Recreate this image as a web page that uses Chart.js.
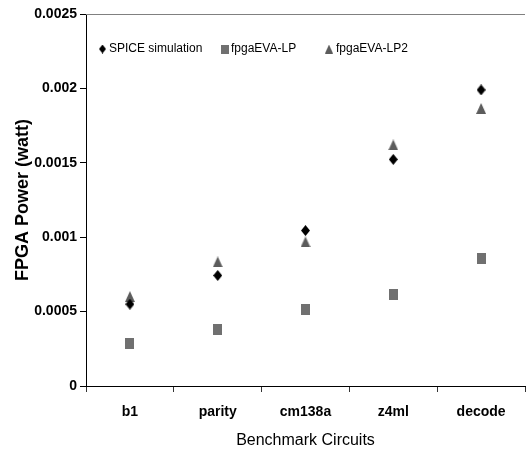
<!DOCTYPE html>
<html>
<head>
<meta charset="utf-8">
<script src="https://cdn.jsdelivr.net/npm/chart.js@4.4.1/dist/chart.umd.min.js"></script>
<style>
  html, body { margin: 0; padding: 0; background: #fff; }
  canvas { display: block; }
</style>
</head>
<body>
<canvas id="chart" width="526" height="451"></canvas>
<script>
var circuits = ['b1', 'parity', 'cm138a', 'z4ml', 'decode'];
var spiceSim = [0.00055, 0.000743, 0.001045, 0.001523, 0.00199];
var evaLP = [0.000286, 0.00038, 0.000514, 0.000612, 0.00086];
var evaLP2 = [0.000601, 0.000834, 0.000968, 0.00162, 0.001865];
var yTicks = [0, 0.0005, 0.001, 0.0015, 0.002, 0.0025];

var fontFam = '"Liberation Sans", Arial, sans-serif';

function marker(kind, color, w, h) {
    var c = document.createElement('canvas');
    c.width = w; c.height = h;
    var g = c.getContext('2d');
    g.fillStyle = color;
    g.beginPath();
    if (kind === 'diamond') {
        g.moveTo(w / 2, 0); g.lineTo(w, h / 2); g.lineTo(w / 2, h); g.lineTo(0, h / 2);
    } else if (kind === 'triangle') {
        g.moveTo(w / 2, 0); g.lineTo(w, h); g.lineTo(0, h);
    } else {
        g.rect(0, 0, w, h);
    }
    g.closePath();
    g.fill();
    return c;
}

var mkSpice = marker('diamond', '#000000', 9, 11);
var mkLP = marker('square', '#707070', 9, 11);
var mkLP2 = marker('triangle', '#5c5c5c', 10, 11);

var chartFrame = {
    id: 'chartFrame',
    afterDraw: function(chart) {
        var ctx = chart.ctx, a = chart.chartArea;
        ctx.save();
        ctx.strokeStyle = '#808080';
        ctx.lineWidth = 1;
        ctx.beginPath();
        ctx.moveTo(a.left, a.top + 0.5);
        ctx.lineTo(a.right, a.top + 0.5);
        ctx.stroke();

        // legend inside the plot
        var items = [
            { x: 99, tx: 109, img: marker('diamond', '#000000', 7, 9) },
            { x: 221, tx: 231, img: marker('square', '#707070', 8, 9) },
            { x: 325, tx: 336, img: marker('triangle', '#5c5c5c', 8, 9) }
        ];
        ctx.font = '12px ' + fontFam;
        ctx.fillStyle = '#000';
        ctx.textBaseline = 'middle';
        chart.data.datasets.forEach(function(ds, i) {
            var it = items[i];
            ctx.drawImage(it.img, it.x, 49 - it.img.height / 2);
            ctx.fillText(ds.label, it.tx, 49);
        });
        ctx.restore();
    }
};

new Chart(document.getElementById('chart'), {
    type: 'line',
    data: {
        labels: circuits,
        datasets: [
            { label: 'SPICE simulation', data: spiceSim, pointStyle: mkSpice },
            { label: 'fpgaEVA-LP', data: evaLP, pointStyle: mkLP },
            { label: 'fpgaEVA-LP2', data: evaLP2, pointStyle: mkLP2 }
        ]
    },
    options: {
        responsive: false,
        animation: false,
        showLine: false,
        layout: { autoPadding: false, padding: { top: 14, right: 1, left: 0, bottom: 0 } },
        plugins: { legend: { display: false }, tooltip: { enabled: false } },
        scales: {
            x: {
                offset: true,
                grid: { offset: true, drawOnChartArea: false, tickLength: 6, color: '#333' },
                border: { color: '#000', width: 1 },
                ticks: { color: '#000', padding: 12, maxRotation: 0, autoSkip: false,
                    font: { family: fontFam, size: 14, weight: 'bold' } },
                title: { display: true, text: 'Benchmark Circuits', color: '#000', padding: 0,
                    font: { family: fontFam, size: 16, lineHeight: 1.25 } },
                afterFit: function(s) { s.height = 65; s.paddingLeft = 0; s.paddingRight = 0; }
            },
            y: {
                min: 0,
                max: 0.0025,
                afterBuildTicks: function(s) { s.ticks = yTicks.map(function(v) { return { value: v }; }); },
                grid: { drawOnChartArea: false, tickLength: 6, color: '#000' },
                border: { color: '#000', width: 1 },
                ticks: {
                    color: '#000', padding: 3,
                    font: { family: fontFam, size: 14, weight: 'bold' },
                    callback: function(v) { return String(+v.toFixed(4)); }
                },
                title: { display: true, text: 'FPGA Power (watt)', color: '#000', padding: { top: 12, bottom: 0 },
                    font: { family: fontFam, size: 18, weight: 'bold', lineHeight: 1.2 } },
                afterFit: function(s) { s.width = 86; }
            }
        }
    },
    plugins: [chartFrame]
});
</script>
</body>
</html>
